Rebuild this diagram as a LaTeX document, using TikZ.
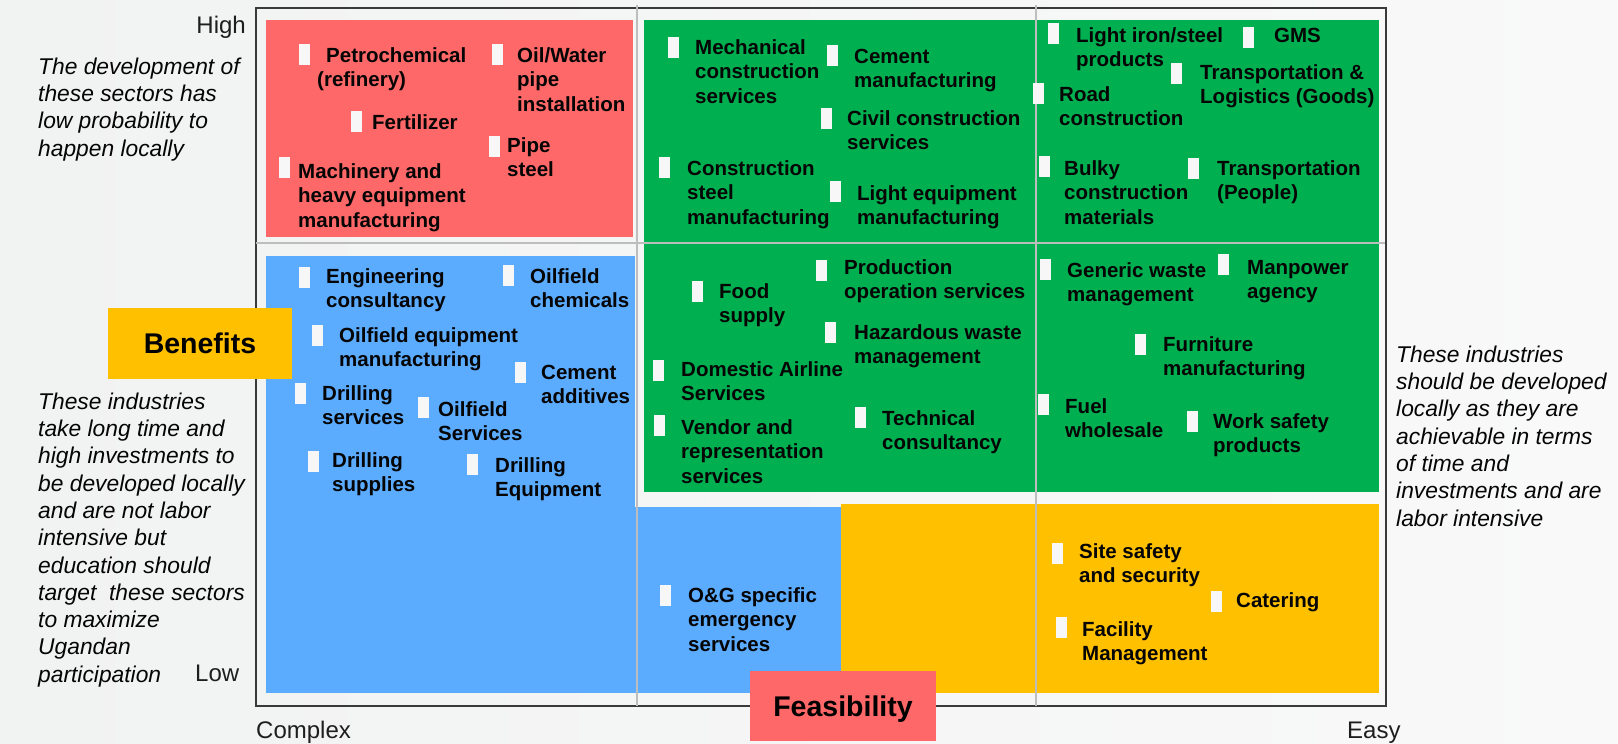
\documentclass[tikz,border=0pt]{standalone}
\usepackage{fontspec}
\setmainfont{Liberation Sans}
\definecolor{bgl}{HTML}{F1F2F2}
\definecolor{bgr}{HTML}{F9F9F9}
\definecolor{redbox}{HTML}{FF6868}
\definecolor{greenbox}{HTML}{00B050}
\definecolor{bluebox}{HTML}{5BABFF}
\definecolor{yellowbox}{HTML}{FFC000}
\definecolor{gridc}{HTML}{BDBDBD}
\definecolor{framec}{HTML}{3A3A3A}
\definecolor{markw}{HTML}{F7F7F7}
\definecolor{txt}{HTML}{050505}
\definecolor{axtxt}{HTML}{1E1E1E}
\newcommand\ls{\rule{0pt}{16pt}}
\newcommand\lsi{\rule{0pt}{18pt}}
\newcommand\ent[6]{%
  \node[mk] (#1m) at (#2,#3) {};
  \node[lbl] (#1) at (#4,#5-16) {\ls #6};
}
\tikzset{
  mk/.style={fill=markw, draw=none, inner sep=0pt, minimum width=11pt, minimum height=21pt, anchor=north west},
  lbl/.style={anchor=north west, inner sep=0pt, align=left, text=txt, font=\bfseries\fontsize{20.5}{24.5}\selectfont},
  note/.style={anchor=north west, inner sep=0pt, align=left, text=txt, font=\itshape\fontsize{22.8}{27.3}\selectfont},
  axislbl/.style={inner sep=0pt, text=axtxt, font=\fontsize{24}{28}\selectfont},
  tag/.style={inner sep=0pt, text depth=0pt, text=black, font=\bfseries\fontsize{28.5}{32}\selectfont},
  gridline/.style={draw=gridc, line width=1.5pt},
}
\begin{document}
\begin{tikzpicture}[x=1pt,y=-1pt]
\useasboundingbox (0,0) rectangle (1618,744);
\shade[left color=bgl, right color=bgr] (0,0) rectangle (1618,744);

% frame
\draw[framec, line width=2pt] (255.5,8) rectangle (1386,706);

% coloured regions
\fill[redbox] (266,20) rectangle (633,237);
\fill[greenbox] (644,20) rectangle (1379,492);
\fill[bluebox] (266,256) rectangle (635,693);
\fill[bluebox] (635,507) rectangle (841,693);
\fill[yellowbox] (841,504) rectangle (1379,693);

% grid lines
\draw[gridline] (637,5) -- (637,706);
\draw[gridline] (1036,5) -- (1036,706);
\draw[gridline] (256,243) -- (1385,243);

% red quadrant
\ent{petro}{299}{44}{317}{62}{\hspace*{9pt}Petrochemical\\(refinery)}
\ent{oil}{492}{44}{517}{62}{Oil/Water\\pipe\\installation}
\ent{fert}{351}{111}{372}{129}{Fertilizer}
\ent{pipe}{489}{136}{507}{152}{Pipe\\steel}
\ent{mach}{279}{157}{298}{178}{Machinery and\\heavy equipment\\manufacturing}

% green top
\ent{mech}{668}{37}{695}{54}{Mechanical\\construction\\services}
\ent{cement}{827}{45}{854}{63}{Cement\\manufacturing}
\ent{civil}{821}{108}{847}{125}{Civil construction\\services}
\ent{cons}{659}{157}{687}{175}{Construction\\steel\\manufacturing}
\ent{light}{830}{181}{857}{200}{Light equipment\\manufacturing}
\ent{iron}{1048}{23}{1076}{42}{Light iron/steel\\products}
\ent{gms}{1243}{27}{1274}{42}{GMS}
\ent{trans}{1171}{63}{1200}{79}{Transportation \&\\Logistics (Goods)}
\ent{road}{1033}{83}{1059}{101}{Road\\construction}
\ent{bulky}{1039}{156}{1064}{175}{Bulky\\construction\\materials}
\ent{people}{1188}{158}{1217}{175}{Transportation\\(People)}

% blue quadrant
\ent{eng}{299}{267}{326}{283}{Engineering\\consultancy}
\ent{ochem}{503}{265}{530}{283}{Oilfield\\chemicals}
\ent{oequip}{312}{325}{339}{342}{Oilfield equipment\\manufacturing}
\ent{cadd}{515}{362}{541}{379}{Cement\\additives}
\ent{dserv}{295}{383}{322}{400}{Drilling\\services}
\ent{oserv}{418}{397}{438}{416}{Oilfield\\Services}
\ent{dsup}{308}{451}{332}{467}{Drilling\\supplies}
\ent{dequip}{467}{454}{495}{472}{Drilling\\Equipment}

% green bottom
\ent{food}{692}{281}{719}{298}{Food\\supply}
\ent{prod}{816}{260}{844}{274}{Production\\operation services}
\ent{haz}{825}{322}{854}{339}{Hazardous waste\\management}
\ent{dom}{653}{360}{681}{376}{Domestic Airline\\Services}
\ent{vendor}{654}{415}{681}{434}{Vendor and\\representation\\services}
\ent{tech}{855}{407}{882}{425}{Technical\\consultancy}
\ent{gen}{1040}{259}{1067}{277}{Generic waste\\management}
\ent{man}{1218}{254}{1247}{274}{Manpower\\agency}
\ent{furn}{1135}{334}{1163}{351}{Furniture\\manufacturing}
\ent{fuel}{1038}{394}{1065}{413}{Fuel\\wholesale}
\ent{work}{1187}{411}{1213}{428}{Work safety\\products}

% lower blue / yellow
\ent{og}{660}{585}{688}{602}{O\&G specific\\emergency\\services}
\ent{site}{1052}{543}{1079}{558}{Site safety\\and security}
\ent{cat}{1211}{591}{1236}{607}{Catering}
\ent{fac}{1056}{617}{1082}{636}{Facility\\Management}

% notes
\node[note] (notetop) at (38,74-18) {\lsi The development of\\these sectors has\\low probability to\\happen locally};
\node[note] (noteleft) at (38,409-18) {\lsi These industries\\take long time and\\high investments to\\be developed locally\\and are not labor\\intensive but\\education should\\target\ \ these sectors\\to maximize\\Ugandan\\participation};
\node[note] (noteright) at (1396,362-18) {\lsi These industries\\should be developed\\locally as they are\\achievable in terms\\of time and\\investments and are\\labor intensive};

% axis labels
\node[axislbl, anchor=base east] (high) at (246,34) {High};
\node[axislbl, anchor=base west] (low) at (195,681) {Low};
\node[axislbl, anchor=base west] (complex) at (256,738) {Complex};
\node[axislbl, anchor=base west] (easy) at (1347,738) {Easy};

% axis tags
\node[tag, fill=yellowbox, minimum width=184pt, minimum height=71pt] (benefits) at (200,343.5) {Benefits};
\node[tag, fill=redbox, minimum width=186pt, minimum height=70pt] (feas) at (843,706) {Feasibility};
\end{tikzpicture}
\end{document}
